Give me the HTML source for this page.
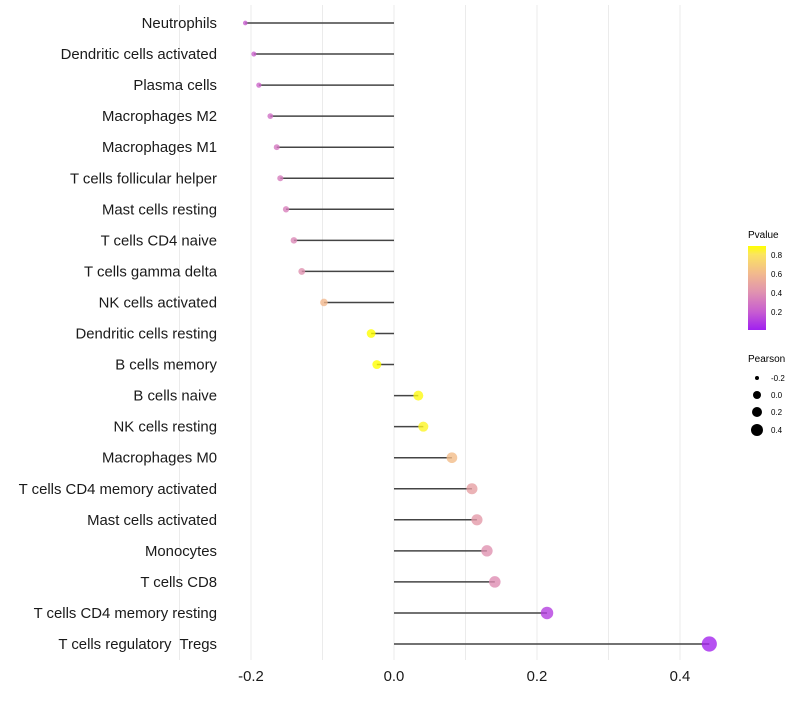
<!DOCTYPE html>
<html><head><meta charset="utf-8"><style>
body{margin:0;background:#fff;font-family:"Liberation Sans",sans-serif}
</style></head><body>
<svg id="chart" width="800" height="700" xmlns="http://www.w3.org/2000/svg" font-family="Liberation Sans, sans-serif">
<g id="grid"></g>
<g id="marks"></g>
<g id="ylabels"></g>
<g id="xlabels"></g>
<g>
<defs><linearGradient id="pg" x1="0" y1="1" x2="0" y2="0">
<stop offset="0" stop-color="#a020f0"/><stop offset="0.22" stop-color="#c85ed0"/><stop offset="0.45" stop-color="#e092b0"/><stop offset="0.67" stop-color="#f2b98e"/><stop offset="0.9" stop-color="#fbe560"/><stop offset="1" stop-color="#ffff00"/></linearGradient></defs>
<text x="748" y="238" font-size="10">Pvalue</text>
<rect x="748" y="246" width="18" height="84" fill="url(#pg)"/>
<text x="771" y="258" font-size="8">0.8</text>
<text x="771" y="277" font-size="8">0.6</text>
<text x="771" y="296" font-size="8">0.4</text>
<text x="771" y="315" font-size="8">0.2</text>
</g>
<g>
<text x="748" y="362" font-size="10">Pearson</text>
<circle cx="757" cy="378" r="2" fill="#000"/>
<circle cx="757" cy="395" r="4" fill="#000"/>
<circle cx="757" cy="412" r="5" fill="#000"/>
<circle cx="757" cy="430" r="6" fill="#000"/>
<text x="771" y="381" font-size="8">-0.2</text>
<text x="771" y="398" font-size="8">0.0</text>
<text x="771" y="415" font-size="8">0.2</text>
<text x="771" y="433" font-size="8">0.4</text>
</g>
</svg>
<script>
const categories=["Neutrophils","Dendritic cells activated","Plasma cells","Macrophages M2","Macrophages M1","T cells follicular helper","Mast cells resting","T cells CD4 naive","T cells gamma delta","NK cells activated","Dendritic cells resting","B cells memory","B cells naive","NK cells resting","Macrophages M0","T cells CD4 memory activated","Mast cells activated","Monocytes","T cells CD8","T cells CD4 memory resting","T cells regulatory  Tregs"];
const pearson=[-0.208,-0.196,-0.189,-0.173,-0.164,-0.159,-0.151,-0.140,-0.129,-0.098,-0.032,-0.024,0.034,0.041,0.081,0.109,0.116,0.130,0.141,0.214,0.441];
const pvalues=[0.2,0.22,0.24,0.27,0.3,0.32,0.33,0.36,0.4,0.6,0.9,0.9,0.88,0.86,0.62,0.47,0.44,0.4,0.38,0.1,0.02];
const xTicks=[-0.2,0.0,0.2,0.4];
const xGrid=[-0.3,-0.2,-0.1,0,0.1,0.2,0.3,0.4];
const NS="http://www.w3.org/2000/svg";
const x=v=>394+v*715;
const y=i=>23+i*31.05;
const stops=[[0,[160,32,240]],[0.2,[200,94,208]],[0.4,[224,146,176]],[0.6,[242,185,142]],[0.8,[251,229,96]],[0.9,[255,255,0]]];
function col(p){p=Math.max(0,Math.min(0.9,p));for(let k=1;k<stops.length;k++){if(p<=stops[k][0]){const a=stops[k-1],b=stops[k],t=(p-a[0])/(b[0]-a[0]);return "rgb("+a[1].map((c,j)=>Math.round(c+(b[1][j]-c)*t)).join(",")+")";}}return "rgb(255,255,0)";}
function mk(t,a,parent){const e=document.createElementNS(NS,t);for(const k in a)e.setAttribute(k,a[k]);parent.appendChild(e);return e;}
const grid=document.getElementById('grid'),marks=document.getElementById('marks'),yl=document.getElementById('ylabels'),xl=document.getElementById('xlabels');
xGrid.forEach(v=>{const l=mk('line',{x1:x(v),x2:x(v),y1:5,y2:660,stroke:'#ebebeb','stroke-width':1},grid);

});
categories.forEach((c,i)=>{
const ln=mk('line',{x1:x(0),x2:x(pearson[i]),y1:y(i),y2:y(i),stroke:'#444','stroke-width':1.5},marks);


const r=Math.sqrt(Math.max(2.25,22+80*pearson[i]));
const ci=mk('circle',{cx:x(pearson[i]),cy:y(i),r:r,fill:col(pvalues[i]),'fill-opacity':0.8},marks);


const t=mk('text',{x:217,y:y(i)+5,'text-anchor':'end','font-size':14.9,fill:'#1a1a1a'},yl);t.textContent=c;
t.setAttribute('xml:space','preserve');t.style.whiteSpace='pre';


});
xTicks.forEach(v=>{const t=mk('text',{x:x(v),y:681,'text-anchor':'middle','font-size':14.9,fill:'#1a1a1a'},xl);t.textContent=v.toFixed(1);

});
</script>
</body></html>
